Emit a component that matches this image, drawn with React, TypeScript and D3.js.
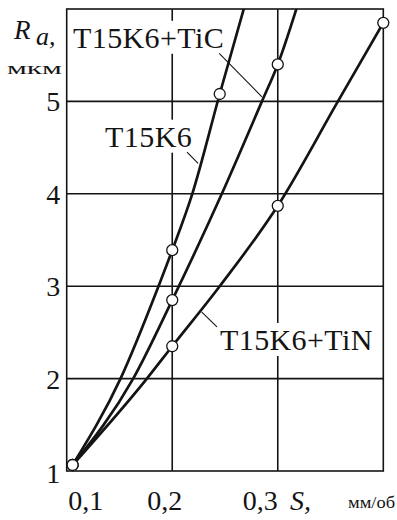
import React, { useRef, useEffect } from "react";
import * as d3 from "d3";

// feed S, мм/об (x) and roughness Ra, мкм (y)
const feedTicks = [0.1, 0.2, 0.3];
const feedTickLabels = ["0,1", "0,2", "0,3"];
const roughTicks = [1, 2, 3, 4, 5];
const roughTickLabels = ["1", "2", "3", "4", "5"];

const seriesNames = ["T15K6", "T15K6+TiC", "T15K6+TiN"];

// measured points (circles)
const t15k6Points = [[0.1056, 1.065], [0.2, 3.39], [0.245, 5.08]];
const ticPoints = [[0.1056, 1.065], [0.2, 2.85], [0.3, 5.4]];
const tinPoints = [[0.1056, 1.065], [0.2, 2.35], [0.3, 3.87], [0.4, 5.85]];

// curves, up to where they leave the frame
const t15k6Curve = [[0.1056, 1.065], [0.151, 2], [0.187, 3], [0.2, 3.39], [0.219, 4], [0.245, 5.08], [0.269, 6.05]];
const ticCurve = [[0.1056, 1.065], [0.163, 2], [0.2, 2.85], [0.247, 4], [0.285, 5], [0.3, 5.4], [0.319, 6.05]];
const tinCurve = [[0.1056, 1.065], [0.176, 2], [0.2, 2.35], [0.245, 3], [0.3, 3.87], [0.357, 5], [0.4, 5.85]];

const FONT = "Liberation Serif, DejaVu Serif, Noto Serif, serif";
const INK = "#141414";

function App() {
  const svgRef = useRef<SVGSVGElement | null>(null);

  useEffect(() => {
    const width = 397;
    const height = 520;
    const margin = { top: 9, right: 13.7, bottom: 49, left: 66.7 };

    const svg = d3.select(svgRef.current);
    svg.selectAll("*").remove();
    svg.attr("width", width).attr("height", height).style("font-family", FONT);

    svg.append("rect").attr("width", width).attr("height", height).attr("fill", "#fff");

    const x = d3.scaleLinear().domain([0.1, 0.4]).range([margin.left, width - margin.right]);
    const y = d3.scaleLinear().domain([1, 6]).range([height - margin.bottom, margin.top]);

    const [x0, x1] = x.range();
    const [y0, y1] = y.range();

    svg
      .append("defs")
      .append("clipPath")
      .attr("id", "plot-clip")
      .append("rect")
      .attr("x", x0)
      .attr("y", y1)
      .attr("width", x1 - x0)
      .attr("height", y0 - y1);

    /* ---------- grid ---------- */
    const grid = svg.append("g").attr("stroke", INK).attr("stroke-width", 1.6);

    grid
      .selectAll(".vgrid")
      .data(feedTicks.slice(1))
      .enter()
      .append("line")
      .attr("x1", (d) => x(d))
      .attr("x2", (d) => x(d))
      .attr("y1", y1)
      .attr("y2", y0);

    grid
      .selectAll(".hgrid")
      .data(roughTicks.slice(1))
      .enter()
      .append("line")
      .attr("x1", x0)
      .attr("x2", x1)
      .attr("y1", (d) => y(d))
      .attr("y2", (d) => y(d));

    svg
      .append("rect")
      .attr("x", x0)
      .attr("y", y1)
      .attr("width", x1 - x0)
      .attr("height", y0 - y1)
      .attr("fill", "none")
      .attr("stroke", INK)
      .attr("stroke-width", 1.6);

    /* ---------- tick labels ---------- */
    svg
      .append("g")
      .selectAll("text")
      .data(roughTicks)
      .enter()
      .append("text")
      .attr("x", x0 - 6.5)
      .attr("y", (d) => y(d) + (d === 1 ? 12 : 10))
      .attr("text-anchor", "end")
      .style("font-family", FONT)
      .attr("font-size", 28)
      .attr("fill", INK)
      .text((d, i) => roughTickLabels[i]);

    const feedShift = [1.5, -25, -35]; // label start relative to its grid line
    svg
      .append("g")
      .selectAll("text")
      .data(feedTicks)
      .enter()
      .append("text")
      .attr("x", (d, i) => x(d) + feedShift[i])
      .attr("y", 510)
      .style("font-family", FONT)
      .attr("font-size", 28)
      .attr("fill", INK)
      .text((d, i) => feedTickLabels[i]);

    // axis titles
    svg
      .append("text")
      .attr("x", 290)
      .attr("y", 510)
      .style("font-family", FONT)
      .attr("font-size", 28)
      .attr("font-style", "italic")
      .attr("fill", INK)
      .text("S,");
    svg
      .append("text")
      .attr("x", 348)
      .attr("y", 508)
      .style("font-family", FONT)
      .attr("font-size", 17)
      .attr("textLength", 47)
      .attr("lengthAdjust", "spacingAndGlyphs")
      .attr("fill", INK)
      .text("мм/об");

    const ra = svg
      .append("text")
      .style("font-family", FONT)
      .attr("font-style", "italic")
      .attr("fill", INK);
    ra.append("tspan").attr("x", 14).attr("y", 39).attr("font-size", 27).text("R");
    ra.append("tspan").attr("x", 36).attr("y", 45).attr("font-size", 26).text("a,");
    svg
      .append("text")
      .attr("x", 7)
      .attr("y", 74)
      .style("font-family", FONT)
      .attr("font-size", 16)
      .attr("textLength", 55)
      .attr("lengthAdjust", "spacingAndGlyphs")
      .attr("fill", INK)
      .text("мкм");

    /* ---------- series labels with leaders ---------- */
    const labels = [
      { name: seriesNames[1], at: [0.106, 5.58], lead: [[0.2445, 5.52], [0.285, 5.05]] },
      { name: seriesNames[0], at: [0.1364, 4.51], lead: [[0.214, 4.45], [0.2245, 4.33]] },
      { name: seriesNames[2], at: [0.2453, 2.31], lead: [[0.228, 2.72], [0.2424, 2.56]] },
    ];

    labels.forEach((l) => {
      const g = svg.append("g");
      const t = g
        .append("text")
        .attr("x", x(l.at[0]))
        .attr("y", y(l.at[1]))
        .style("font-family", FONT)
        .attr("font-size", 30)
        .attr("letter-spacing", 0.4)
        .attr("fill", INK)
        .text(l.name);
      const box = (t.node() as SVGTextElement).getBBox();
      g.insert("rect", "text")
        .attr("x", box.x - 1)
        .attr("y", box.y)
        .attr("width", box.width + 2)
        .attr("height", box.height)
        .attr("fill", "#fff");
      svg
        .append("line")
        .attr("x1", x(l.lead[0][0]))
        .attr("y1", y(l.lead[0][1]))
        .attr("x2", x(l.lead[1][0]))
        .attr("y2", y(l.lead[1][1]))
        .attr("stroke", INK)
        .attr("stroke-width", 1.1);
    });

    /* ---------- curves ---------- */
    const line = d3
      .line<number[]>()
      .x((d) => x(d[0]))
      .y((d) => y(d[1]))
      .curve(d3.curveMonotoneX);

    svg
      .append("g")
      .attr("clip-path", "url(#plot-clip)")
      .selectAll("path")
      .data([t15k6Curve, ticCurve, tinCurve])
      .enter()
      .append("path")
      .attr("d", (d) => line(d))
      .attr("fill", "none")
      .attr("stroke", INK)
      .attr("stroke-width", 2.7);

    /* ---------- markers ---------- */
    svg
      .append("g")
      .selectAll("circle")
      .data([t15k6Points, ticPoints, tinPoints].flat())
      .enter()
      .append("circle")
      .attr("cx", (d) => x(d[0]))
      .attr("cy", (d) => y(d[1]))
      .attr("r", 5.5)
      .attr("fill", "#fff")
      .attr("stroke", INK)
      .attr("stroke-width", 1.3);
  }, []);

  return (
    <div style={{ position: "absolute", left: 0, top: 0 }}>
      <svg ref={svgRef}></svg>
    </div>
  );
}

export default App;
